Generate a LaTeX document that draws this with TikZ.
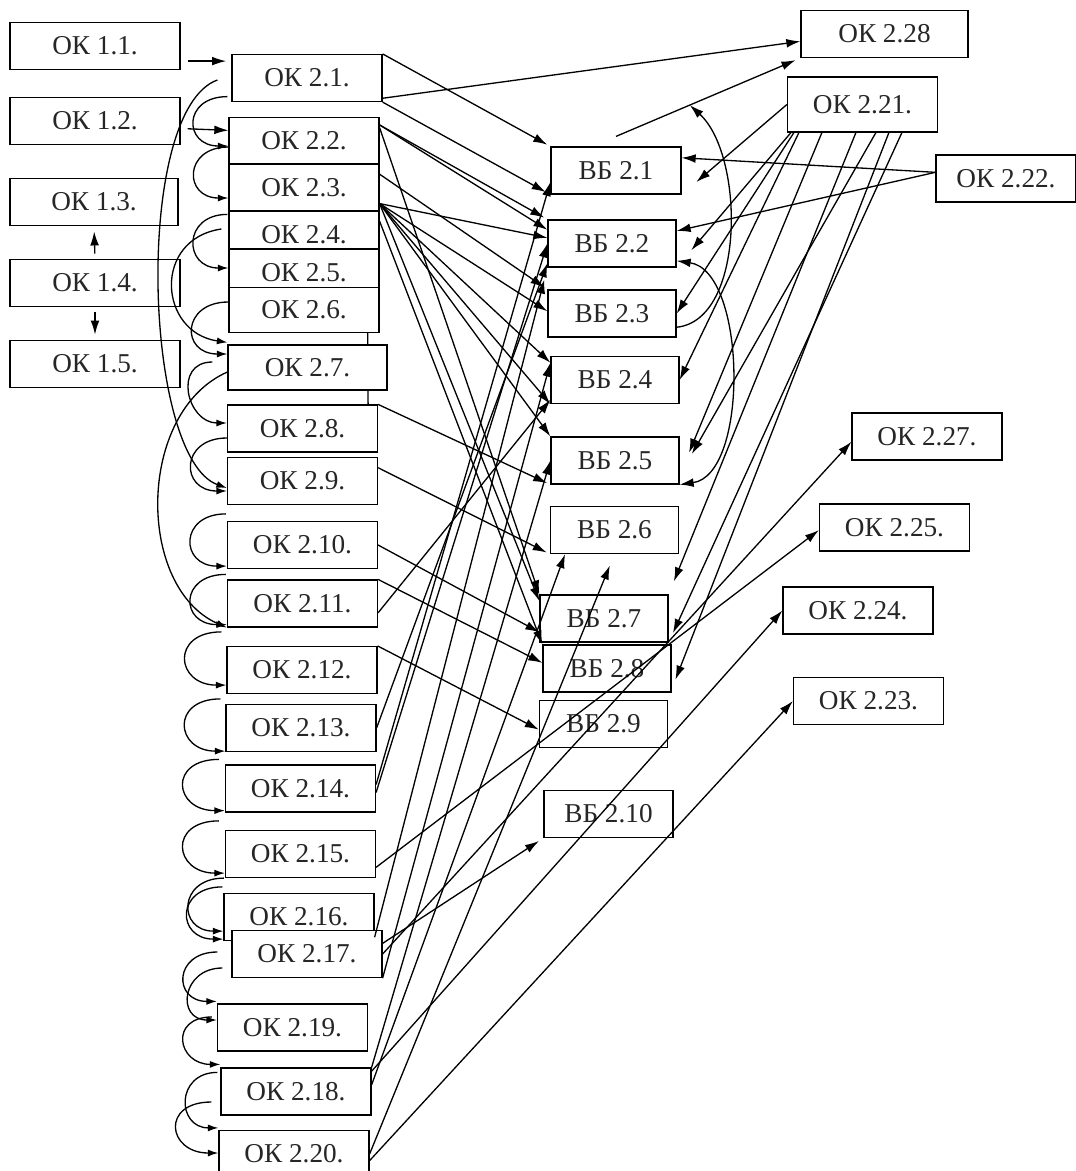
\documentclass[tikz,border=0pt]{standalone}
\usepackage{fontspec}
\setmainfont{Liberation Serif}
\usetikzlibrary{arrows.meta, backgrounds}

\begin{document}
\begin{tikzpicture}[
    x=0.02cm, y=-0.02cm,
    >={Latex[length=8pt,width=5pt]},
    cell/.style={draw, fill=white, line width=0.7pt, inner sep=0pt, minimum height=0.94cm, text=black!85, font=\fontsize{15.5}{18}\selectfont},
    okbox/.style={cell, minimum width=3cm},
    widebox/.style={cell, minimum width=3.4cm},
    vbbox/.style={cell, minimum width=2.56cm},
    conn/.style={->, line width=0.75pt},
    curl/.style={->, line width=0.75pt, >={Latex[length=6pt,width=4pt]}}
]
\useasboundingbox (0,0) rectangle (1076,1171);

% Column 1
\node[widebox] (ok11) at (95,46) {ОК 1.1.};
\node[widebox] (ok12) at (95,121) {ОК 1.2.};
\node[widebox, minimum width=3.36cm] (ok13) at (94,202) {ОК 1.3.};
\node[widebox] (ok14) at (95,283) {ОК 1.4.};
\node[widebox] (ok15) at (95,364) {ОК 1.5.};

% Column 2
\node[okbox] (ok21) at (307,78) {ОК 2.1.};
\node[okbox] (ok22) at (304,141) {ОК 2.2.};
\node[okbox] (ok23) at (304,187.5) {ОК 2.3.};
\node[okbox] (ok24) at (304,234.5) {ОК 2.4.};
\node[okbox] (ok25) at (304,272.5) {ОК 2.5.};
\node[okbox, minimum height=0.9cm] (ok26) at (304,310) {ОК 2.6.};
\node[okbox, minimum width=3.18cm, minimum height=0.9cm] (ok27) at (307.5,367.5) {ОК 2.7.};
\node[okbox] (ok28) at (302.5,428.5) {ОК 2.8.};
\node[okbox] (ok29) at (302.5,481) {ОК 2.9.};
\node[okbox] (ok210) at (302.5,545) {ОК 2.10.};
\node[okbox] (ok211) at (302.5,603.5) {ОК 2.11.};
\node[okbox] (ok212) at (302,670) {ОК 2.12.};
\node[okbox] (ok213) at (301,728) {ОК 2.13.};
\node[okbox] (ok214) at (300.5,788.5) {ОК 2.14.};
\node[okbox] (ok215) at (300.5,854) {ОК 2.15.};
\node[okbox] (ok216) at (299,917) {ОК 2.16.};
\node[okbox] (ok217) at (307,954) {ОК 2.17.};
\node[okbox] (ok219) at (292.5,1027.5) {ОК 2.19.};
\node[okbox] (ok218) at (296,1091.5) {ОК 2.18.};
\node[okbox] (ok220) at (294,1154) {ОК 2.20.};

% Column 3
\node[vbbox, minimum width=2.6cm] (vb21) at (616,170.5) {ВБ 2.1};
\node[vbbox] (vb22) at (612,243.5) {ВБ 2.2};
\node[vbbox] (vb23) at (612,313.5) {ВБ 2.3};
\node[vbbox] (vb24) at (615,380) {ВБ 2.4};
\node[vbbox] (vb25) at (615,460.5) {ВБ 2.5};
\node[vbbox] (vb26) at (614.5,530) {ВБ 2.6};
\node[vbbox] (vb27) at (604,618.5) {ВБ 2.7};
\node[vbbox] (vb28) at (607,668.5) {ВБ 2.8};
\node[vbbox] (vb29) at (603.5,724) {ВБ 2.9};
\node[vbbox, minimum width=2.58cm] (vb210) at (608.5,814) {ВБ 2.10};

% Column 4
\node[okbox, minimum width=3.34cm] (ok228) at (884.5,34) {ОК 2.28};
\node[okbox, minimum height=1.1cm] (ok221) at (862.5,104.5) {ОК 2.21.};
\node[okbox, minimum width=2.8cm] (ok222) at (1006,178.5) {ОК 2.22.};
\node[okbox] (ok227) at (927,436.5) {ОК 2.27.};
\node[okbox] (ok225) at (894.5,527.5) {ОК 2.25.};
\node[okbox] (ok224) at (858,610.5) {ОК 2.24.};
\node[okbox] (ok223) at (868.5,701) {ОК 2.23.};

% stub behind 2.7
\begin{scope}[on background layer]
\draw[line width=0.75pt] ([shift={(-12,-12)}]ok26.south east) -- ([shift={(-10,0)}]ok28.north east);
\end{scope}

% Column 1 edges
\draw[conn, shorten <=4pt, shorten >=3pt] (ok11.-10) -- (ok11.-10 -| ok21.west);
\draw[conn, shorten <=4pt] (ok12.-5) -- (ok22.172);
\draw[conn, shorten <=3pt, shorten >=3pt] (ok14.north) -- (ok13.south);
\draw[conn, shorten <=3pt, shorten >=3pt] (ok14.south) -- (ok15.north);

% Left curls
\draw[curl] ([shift={(-4,-5.5)}]ok21.south west) .. controls +(-45,0) and +(-45,0) .. ([shift={(0,5)}]ok22.west);
\draw[curl] ([shift={(0,6)}]ok22.west) .. controls +(-45,0) and +(-45,0) .. ([shift={(0,10.5)}]ok23.west);
\draw[curl] ([shift={(-1,4)}]ok24.north west) .. controls +(-45,0) and +(-45,0) .. ([shift={(0,-4.5)}]ok25.west);
\draw[curl] ([shift={(-7,-5.5)}]ok24.west) .. controls +(-69,10) and +(-69,-10) .. ([shift={(0,-2)}]ok27.north west);
\draw[curl] ([shift={(0,-8)}]ok26.west) .. controls +(-47,0) and +(-47,0) .. ([shift={(0,-13.5)}]ok27.west);
\draw[curl] ([shift={(-14,2)}]ok21.west) .. controls +(-84,30) and +(-84,-30) .. ([shift={(0,7)}]ok29.west);
\draw[curl] ([shift={(-15,-5.5)}]ok27.west) .. controls +(-40,0) and +(-40,0) .. ([shift={(0,-5.5)}]ok28.west);
\draw[curl] ([shift={(0,9.5)}]ok28.west) .. controls +(-47,0) and +(-47,0) .. ([shift={(0,10)}]ok29.west);
\draw[curl] ([shift={(0,4.5)}]ok27.west) .. controls +(-91,40) and +(-91,-40) .. (ok211.south west);
\draw[curl] ([shift={(-1,-7)}]ok210.north west) .. controls +(-47,0) and +(-47,0) .. ([shift={(0,-3)}]ok210.south west);
\draw[curl] ([shift={(-1,-5)}]ok211.north west) .. controls +(-47,0) and +(-47,0) .. ([shift={(0,-3)}]ok211.south west);
\draw[curl] ([shift={(-5,-14)}]ok212.north west) .. controls +(-51,0) and +(-51,0) .. ([shift={(0,-9)}]ok212.south west);
\draw[curl] ([shift={(-5,-5)}]ok213.north west) .. controls +(-50,0) and +(-50,0) .. ([shift={(0,-1)}]ok213.south west);
\draw[curl] ([shift={(-6,-5)}]ok214.north west) .. controls +(-51,0) and +(-51,0) .. ([shift={(0,-2)}]ok214.south west);
\draw[curl] ([shift={(-6,-9)}]ok215.north west) .. controls +(-51,0) and +(-51,0) .. ([shift={(0,-5)}]ok215.south west);
\draw[curl] ([shift={(-1,0)}]ok215.south west) .. controls +(-46,0) and +(-46,0) .. ([shift={(0,-10)}]ok216.south west);
\draw[curl] ([shift={(-1,-6)}]ok216.north west) .. controls +(-47,0) and +(-47,0) .. ([shift={(0,-2)}]ok216.south west);
\draw[curl] ([shift={(-14,-2)}]ok217.west) .. controls +(-44,0) and +(-44,0) .. ([shift={(0,-2)}]ok219.north west);
\draw[curl] ([shift={(-9,14)}]ok217.west) .. controls +(-41,0) and +(-41,0) .. ([shift={(0,-7.5)}]ok219.west);
\draw[curl] ([shift={(-5,-10.5)}]ok219.west) .. controls +(-43,0) and +(-43,0) .. ([shift={(0,-3)}]ok218.north west);
\draw[curl] ([shift={(-3,5)}]ok218.north west) .. controls +(-42,0) and +(-42,0) .. ([shift={(0,-2)}]ok220.north west);
\draw[curl] ([shift={(-9,10.5)}]ok218.west) .. controls +(-51,0) and +(-51,0) .. ([shift={(0,-1)}]ok220.west);

% Down to ВБ
\draw[conn, shorten >=2pt] (ok21.north east) -- (vb21.north west);
\draw[conn, shorten >=3pt] (ok21.south east) -- (vb21.south west);
\draw[conn, shorten >=2pt] (ok22.12) -- (vb22.north west);
\draw[conn] (ok22.12) -- (vb22.168);
\draw[conn] (ok22.10) -- (vb27.north west);
\draw[conn, shorten >=2pt] (ok23.10) -- (vb23.north west);
\draw[conn] (ok23.-12) -- (vb22.175);
\draw[conn] (ok23.-12) -- (vb23.178);
\draw[conn] (ok23.-12) -- (vb24.165);
\draw[conn] (ok23.-12) -- (vb24.south west);
\draw[conn] (ok23.-12) -- (vb25.north west);
\draw[conn] (ok23.-12) -- (vb27.165);
\draw[conn] (ok24.10) -- (vb28.north west);
\draw[conn, shorten >=2pt] (ok28.north east) -- (vb25.south west);
\draw[conn, shorten >=2pt] (ok29.10) -- (vb26.south west);
\draw[conn] (ok210.east) -- (vb27.192);
\draw[conn] (ok211.north east) -- (vb28.175);
\draw[conn] (ok212.north east) -- (vb29.185);

% Up to ВБ
\draw[conn] (ok211.-7) -- (vb24.197);
\draw[conn] (ok213.east) -- (vb22.197);
\draw[conn] (ok214.3) -- (vb21.190);
\draw[conn] (ok214.-3) -- (vb22.180);
\draw[conn, shorten >=7pt] (ok216.-15) -- (vb22.south west);
\draw[conn] (ok217.south east) -- (vb24.165);
\draw[conn] (ok218.north east) -- (vb25.west);
\draw[conn] (ok218.5) -- (vb26.206);
\draw[conn, shorten >=7pt] (ok220.east) -- (vb26.south);

% Right side
\draw[conn] (ok21.-15) -- (ok228.185);
\draw[conn, shorten >=3pt] ([yshift=0.2cm]vb21.north) -- coordinate[pos=0.4] (j1) (ok228.south west);
\draw[conn] (vb23.-12) .. controls +(69,-7) and +(55,50) .. (j1);
\draw[conn, <->] (vb22.-15) .. controls +(70,10) and +(70,-10) .. (vb25.south east);
\draw[conn] (ok222.175) -- (vb21.11);
\draw[conn] (ok222.175) -- (vb22.11);

% From 2.21
\draw[conn, shorten >=11pt] (ok221.west) -- (vb21.south east);
\draw[conn, shorten >=13pt] ([shift={(4,0)}]ok221.south west) -- (vb22.south east);
\draw[conn] ([shift={(7,0)}]ok221.south west) -- (vb23.east);
\draw[conn] ([shift={(12,0)}]ok221.south west) -- (vb24.east);
\draw[conn, shorten >=14pt] ([shift={(35,0)}]ok221.south west) -- (vb25.-13);
\draw[conn, shorten >=8pt] ([shift={(69,0)}]ok221.south west) -- (vb27.north east);
\draw[conn, shorten >=14pt] ([shift={(89,0)}]ok221.south west) -- (vb25.-13);
\draw[conn, shorten >=6pt] ([shift={(102,0)}]ok221.south west) -- (vb28.-18);
\draw[conn, shorten >=6pt] ([shift={(115,0)}]ok221.south west) -- (vb27.south east);

% Up to right boxes
\draw[conn] (ok215.-10) -- (ok225.182);
\draw[conn] (ok217.east) -- (ok227.184);
\draw[conn, shorten >=3pt] (ok217.8) -- (vb210.south west);
\draw[conn] (ok218.15) -- (ok224.west);
\draw[conn] (ok220.-5) -- (ok223.west);

\end{tikzpicture}
\end{document}
